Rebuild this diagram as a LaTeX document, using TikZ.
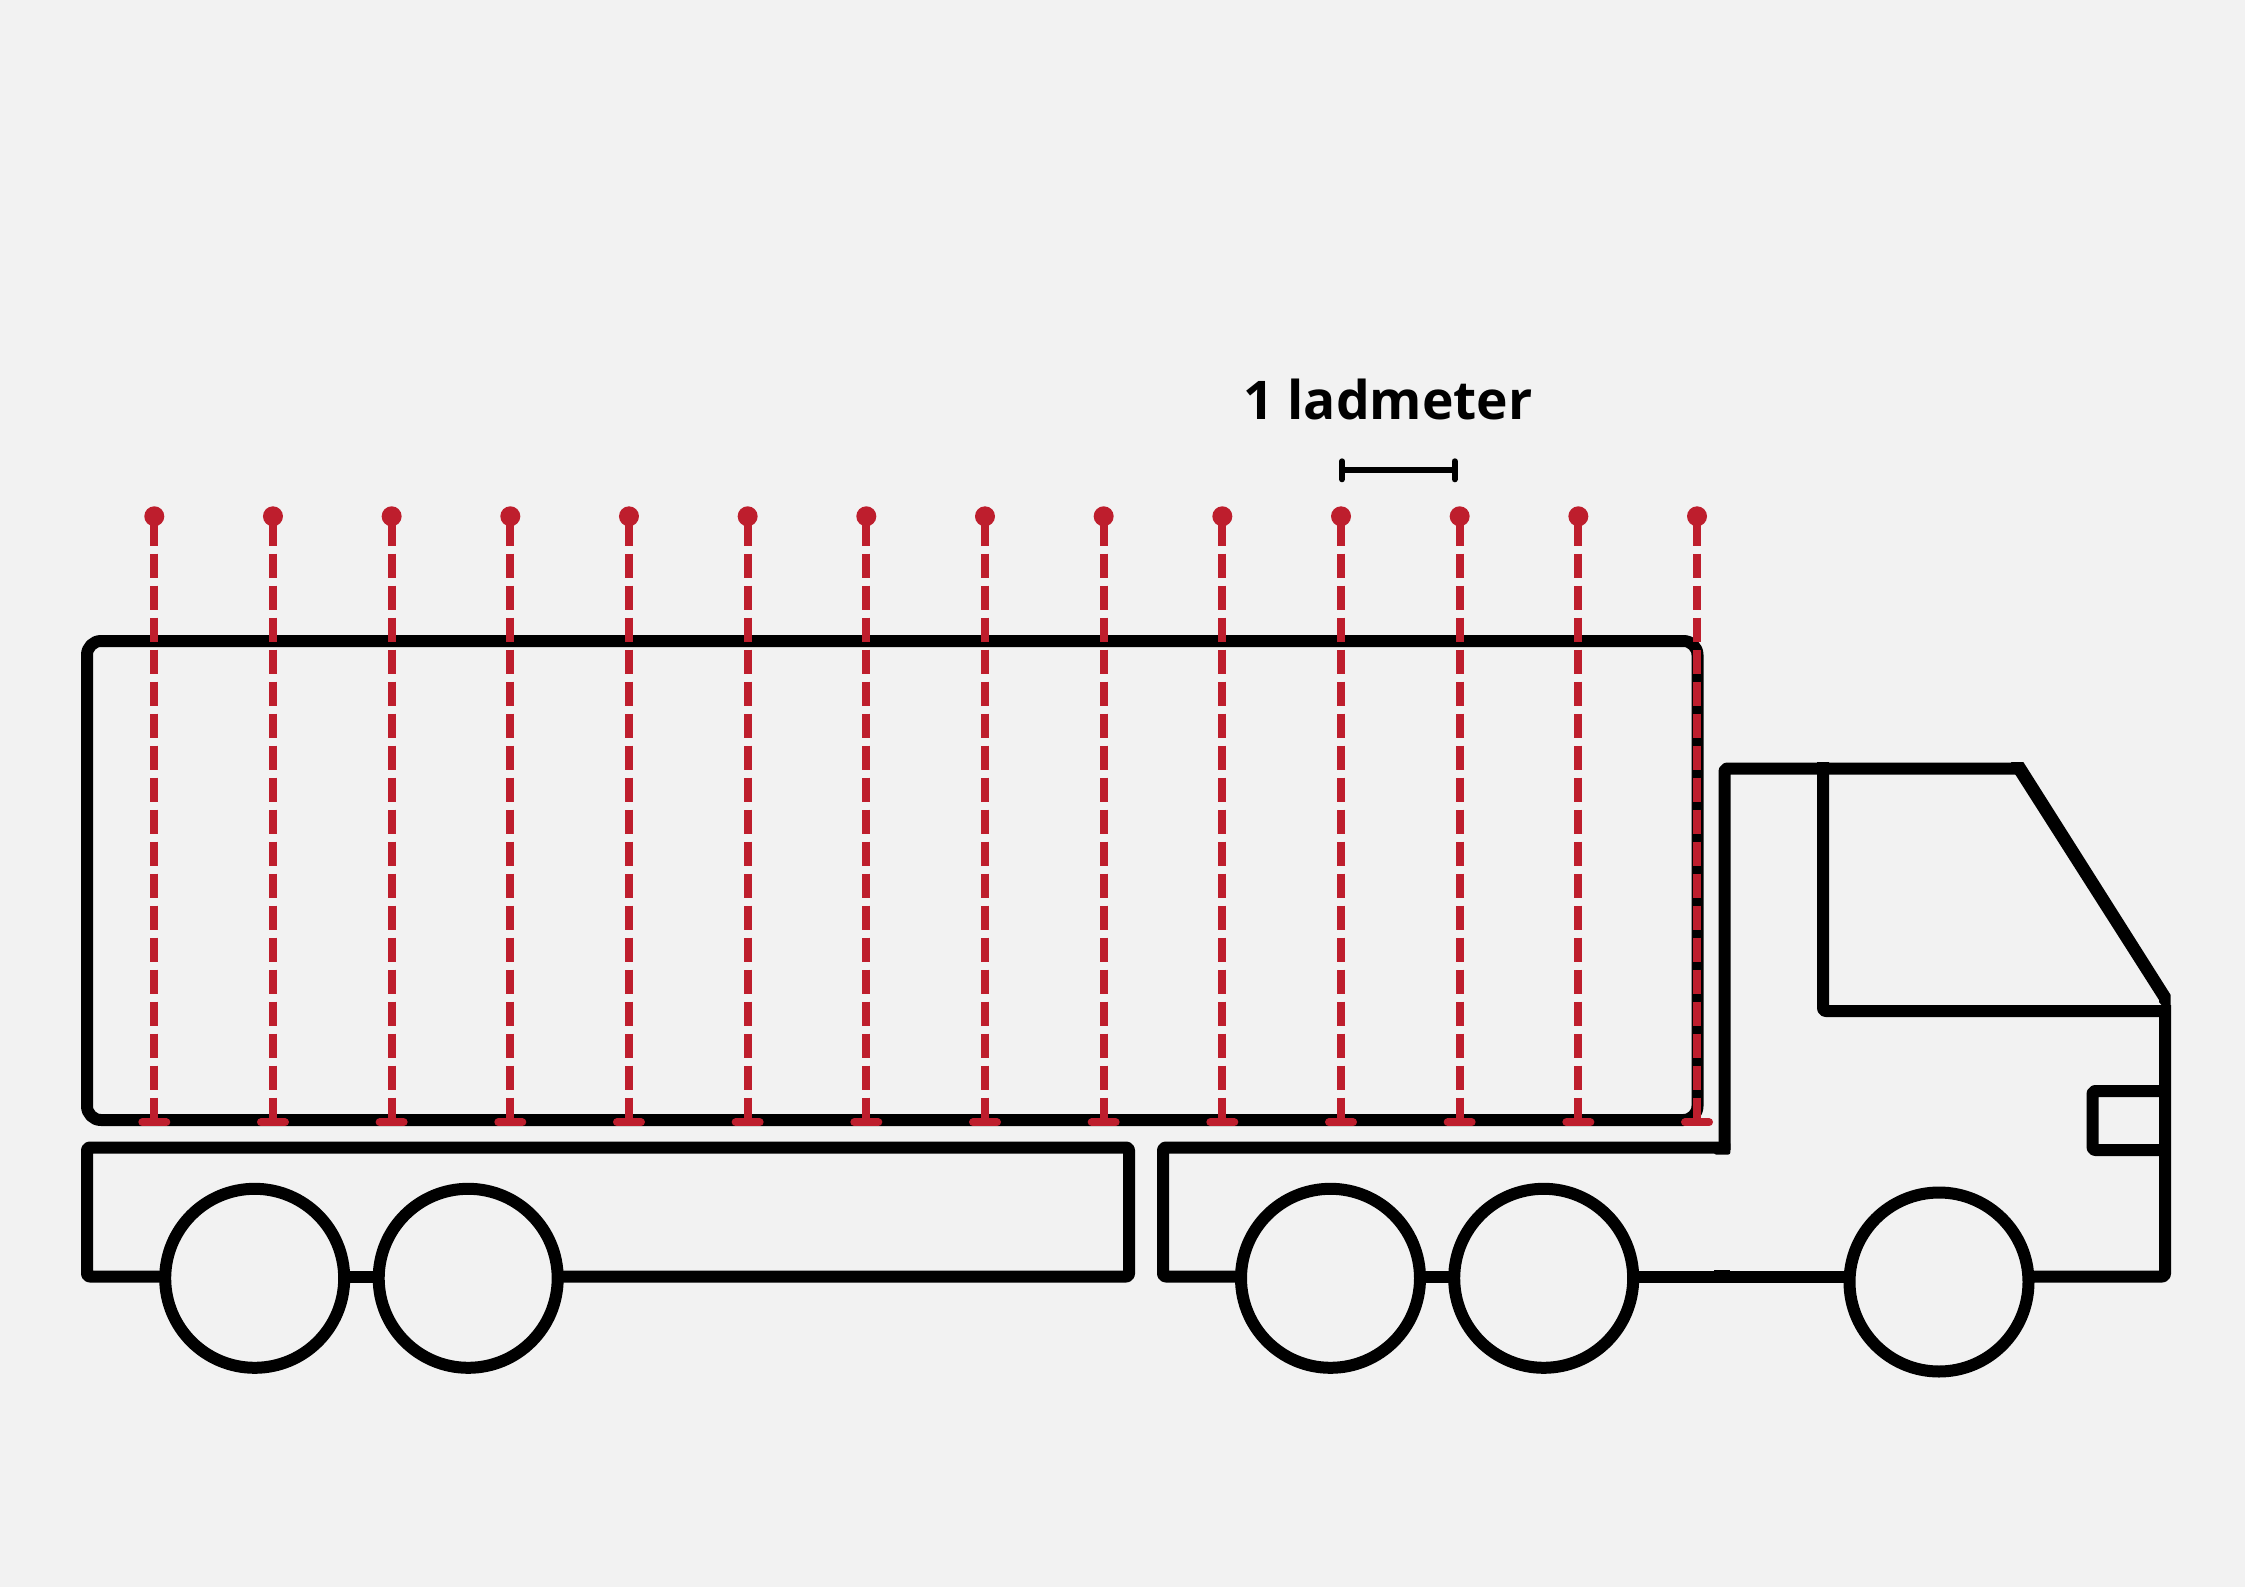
\documentclass[tikz,border=0pt]{standalone}
\usepackage{fontspec}
\setmainfont{Open Sans}
\definecolor{bgc}{HTML}{F2F2F2}
\definecolor{redc}{HTML}{BE1E2D}
\tikzset{
  blk/.style={draw=black,line width=9pt,line join=round,rounded corners=2pt},
  wheel/.style={circle,draw=black,line width=9pt,minimum size=134.25pt,inner sep=0pt,outer sep=0pt},
  reddash/.style={draw=redc,line width=6pt,dash pattern=on 18pt off 6pt},
  redfoot/.style={draw=redc,line width=6pt,line cap=round},
  reddot/.style={circle,fill=redc,minimum size=15pt,inner sep=0pt,outer sep=0pt},
  rule/.style={draw=black,line width=4.5pt,line cap=round},
}
\begin{document}
\begin{tikzpicture}[x=0.75pt,y=-0.75pt]
\useasboundingbox (0,0) rectangle (2245,1587);
\fill[bgc] (0,0) rectangle (2245,1587);
% trailer box
\draw[blk,rounded corners=10.5pt] (87,880) -- (87,641) -- (1697.5,641) -- (1697.5,1120) -- (87,1120) -- cycle;
% trailer chassis
\draw[blk] (165.2,1276.5) -- (87,1276.5) -- (87,1147.5) -- (1129,1147.5) -- (1129,1276.5) -- (557.5,1276.5);
\draw[blk] (344.2,1276.5) -- (378.5,1276.5);
% truck chassis
\draw[blk] (1241,1276.5) -- (1163,1276.5) -- (1163,1147.5) -- (1724.5,1147.5);
\draw[blk] (1420,1276.5) -- (1454.2,1276.5);
\draw[blk] (1633.2,1276.5) -- (1849.5,1276.5);
\fill[black,rounded corners=1.5pt] (1714,1142) rectangle (1730.3,1154.5);
\fill[black] (1714,1269.6) rectangle (1730,1282.3);
% cab
\draw[blk] (1724.5,1150) -- (1724.5,768.5) -- (2016,768.5);
\draw[blk] (1823,762) -- (1823,1011) -- (2166,1011);
\fill[black] (2011,762) -- (2023.3,762) -- (2170.7,995) -- (2170.7,1016) -- (2159,1002) -- (2159,1000) -- (2015,774) -- cycle;
\draw[blk] (2028.5,1276.5) -- (2165,1276.5) -- (2165,1005);
\draw[blk] (2170.7,1091) -- (2092.5,1091) -- (2092.5,1150) -- (2170.7,1150);
% wheels
\node[wheel] (w1) at (254.7,1278.3) {};
\node[wheel] (w2) at (468.2,1278.3) {};
\node[wheel] (w3) at (1330.5,1278.3) {};
\node[wheel] (w4) at (1543.7,1278.3) {};
\node[wheel] (w5) at (1939,1282) {};
% markers
\foreach \i in {0,...,13} {
  \pgfmathsetmacro{\mx}{154.3+118.67*\i}
  \node[reddot] (d\i) at (\mx,516.3) {};
  \coordinate (s\i) at (\mx,521.7);
  \coordinate (e\i) at (\mx,1122.3);
  \draw[reddash] (s\i) -- (e\i);
  \draw[redfoot] ([xshift=-9pt]e\i) -- ([xshift=9pt]e\i);
}
% scale
\coordinate (ra) at (1342,470.3);
\coordinate (rb) at (1454.7,470.3);
\draw[rule] (ra) -- (rb);
\draw[rule] ([yshift=6.75pt]ra) -- ([yshift=-6.75pt]ra);
\draw[rule] ([yshift=6.75pt]rb) -- ([yshift=-6.75pt]rb);
\node[anchor=base west,inner sep=0pt,font=\fontsize{40}{48}\selectfont\bfseries] (lbl) at (1243,419) {1 ladmeter};
\end{tikzpicture}
\end{document}
